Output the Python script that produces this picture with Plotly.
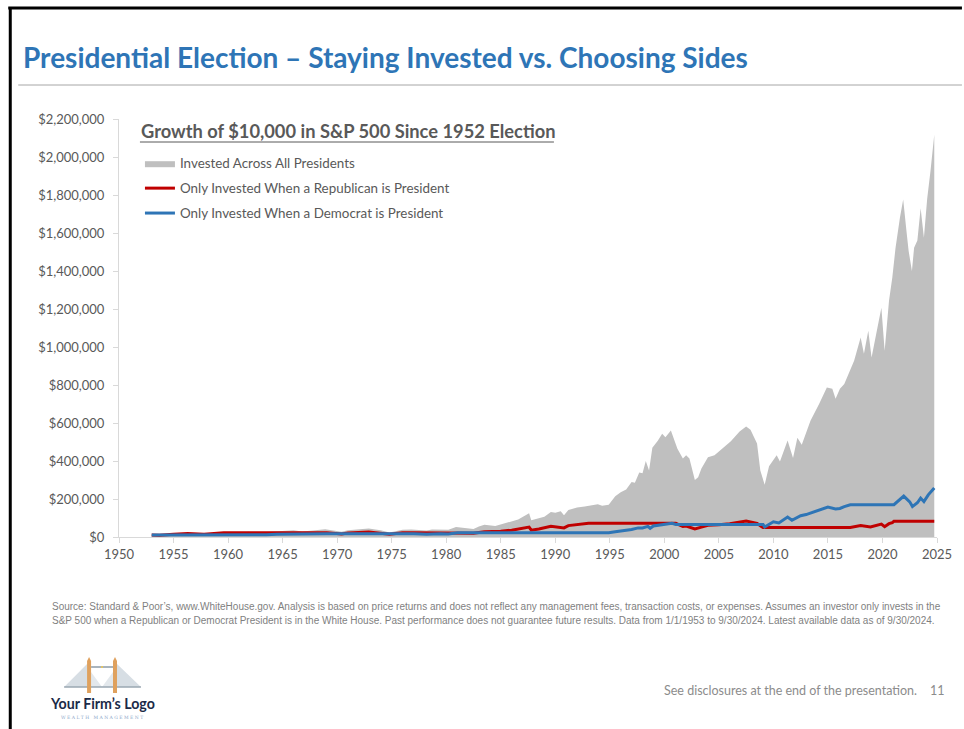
import plotly.graph_objects as go

# ---- data (decimal years, dollar values) ----
all_years = [1953.0, 1953.7, 1954.5, 1955.0, 1955.7, 1956.3, 1957.0, 1957.8, 1958.5, 1959.0,
             1959.6, 1960.3, 1960.8, 1961.5, 1961.9, 1962.5, 1963.0, 1963.9, 1964.9, 1965.5,
             1966.0, 1966.8, 1967.5, 1968.0, 1968.9, 1969.5, 1970.4, 1971.0, 1971.5, 1972.0,
             1972.9, 1973.5, 1974.0, 1974.8, 1975.5, 1976.0, 1976.8, 1977.5, 1978.2, 1978.7,
             1979.5, 1980.2, 1980.9, 1981.5, 1982.5, 1983.0, 1983.5, 1984.5, 1985.0, 1985.5,
             1986.0, 1986.6, 1987.0, 1987.6, 1987.8, 1988.5, 1989.0, 1989.6, 1990.0, 1990.5,
             1990.8, 1991.2, 1992.0, 1992.7, 1993.3, 1993.9, 1994.3, 1994.9, 1995.5, 1996.0,
             1996.5, 1997.0, 1997.3, 1997.7, 1998.0, 1998.3, 1998.6, 1998.9, 1999.4, 1999.8,
             2000.1, 2000.6, 2001.2, 2001.7, 2002.0, 2002.3, 2002.8, 2003.1, 2003.4, 2004.0,
             2004.6, 2005.2, 2006.1, 2006.9, 2007.5, 2007.9, 2008.5, 2008.8, 2009.2, 2009.6,
             2010.3, 2010.6, 2011.3, 2011.8, 2012.2, 2012.6, 2013.4, 2014.2, 2014.9, 2015.4,
             2015.7, 2016.1, 2016.5, 2017.4, 2018.0, 2018.3, 2018.7, 2019.0, 2019.5, 2019.9,
             2020.2, 2020.6, 2020.9, 2021.2, 2021.6, 2021.9, 2022.2, 2022.4, 2022.7, 2022.9,
             2023.2, 2023.5, 2023.8, 2024.1, 2024.4, 2024.75]
all_values = [10000, 9300, 12500, 14000, 17500, 18500, 17500, 15000, 17500, 21000,
              22500, 21000, 20500, 24500, 27000, 20500, 25000, 28000, 32000, 32500,
              35000, 29000, 34500, 36000, 41000, 35000, 27000, 35000, 38000, 40000,
              45000, 40000, 36000, 24000, 34000, 38000, 40000, 37000, 34000, 40000,
              40000, 38000, 53000, 49000, 42000, 55000, 64000, 58000, 66000, 72000,
              84000, 92000, 105000, 125000, 88000, 100000, 106000, 132000, 128000, 136000,
              114000, 142000, 155000, 160000, 165000, 172000, 165000, 170000, 215000, 236000,
              250000, 290000, 285000, 340000, 335000, 400000, 350000, 470000, 507000, 543000,
              525000, 560000, 465000, 413000, 430000, 413000, 300000, 315000, 360000, 420000,
              430000, 460000, 504000, 555000, 581000, 565000, 492000, 350000, 275000, 373000,
              430000, 398000, 508000, 416000, 523000, 486000, 612000, 701000, 787000, 780000,
              728000, 780000, 805000, 928000, 1050000, 964000, 1085000, 945000, 1102000, 1207000,
              980000, 1243000, 1365000, 1522000, 1680000, 1776000, 1610000, 1505000, 1400000, 1522000,
              1560000, 1730000, 1575000, 1780000, 1925000, 2117000]

rep_years = [1953.0, 1953.7, 1955.0, 1956.3, 1957.8, 1958.5, 1959.6, 1960.5, 1961.05, 1969.05,
             1970.4, 1971.0, 1972.0, 1972.9, 1974.8, 1975.5, 1976.0, 1977.05, 1981.05, 1982.5,
             1983.5, 1985.0, 1986.0, 1987.6, 1987.8, 1988.5, 1989.6, 1990.8, 1991.2, 1992.0,
             1993.05, 2001.05, 2001.7, 2002.0, 2002.8, 2003.4, 2004.0, 2005.0, 2006.0, 2007.5,
             2008.5, 2008.9, 2009.05, 2017.05, 2017.5, 2018.0, 2018.9, 2019.5, 2019.9, 2020.2,
             2020.6, 2020.9, 2021.05, 2024.75]
rep_values = [10000, 9500, 14000, 18000, 15000, 17500, 23000, 22000, 23000, 23000,
              16000, 21000, 23000, 26000, 14000, 20000, 22000, 23000, 23000, 20000,
              28000, 30000, 36000, 52000, 36000, 42000, 56000, 48000, 60000, 66000,
              72000, 72000, 55000, 58000, 43000, 52000, 62000, 64000, 70000, 84000,
              72000, 55000, 50000, 50000, 55000, 60000, 53000, 62000, 68000, 54000,
              70000, 76000, 83000, 83000]

dem_years = [1953.0, 1961.05, 1961.9, 1962.5, 1963.5, 1964.5, 1966.0, 1966.8, 1968.0, 1969.05,
             1977.05, 1978.2, 1979.5, 1980.2, 1981.05, 1993.05, 1994.0, 1994.9, 1995.5, 1996.0,
             1996.5, 1997.0, 1997.6, 1998.0, 1998.5, 1998.7, 1999.0, 1999.5, 2000.0, 2000.7,
             2001.05, 2009.05, 2009.2, 2009.5, 2010.0, 2010.5, 2011.3, 2011.7, 2012.5, 2013.0,
             2014.0, 2015.0, 2015.7, 2016.1, 2016.5, 2017.05, 2021.05, 2021.5, 2021.95, 2022.5,
             2022.75, 2023.2, 2023.5, 2023.8, 2024.2, 2024.75]
dem_values = [10000, 10000, 12000, 9500, 12000, 14000, 16000, 13500, 16000, 17000,
              17000, 14500, 17000, 16000, 22000, 22000, 23000, 22500, 28000, 32000,
              35000, 40000, 48000, 48000, 56000, 46000, 58000, 63000, 67000, 72000,
              66000, 66000, 53000, 62000, 80000, 74000, 105000, 88000, 112000, 118000,
              140000, 158000, 148000, 150000, 160000, 170000, 170000, 195000, 215000, 185000,
              160000, 180000, 205000, 186000, 222000, 258000]

series_names = ["Invested Across All Presidents",
                "Only Invested When a Republican is President",
                "Only Invested When a Democrat is President"]

x_ticks = list(range(1950, 2030, 5))

# ---- page geometry (pixels) ----
W, H = 964, 729
L, T, PW, PH = 119, 119, 820, 418


def px(x):
    return (x - L) / PW


def py(y):
    return (T + PH - y) / PH


GRAY = "#BFBFBF"
RED = "#C00000"
BLUE = "#2E75B6"
TXT = "#595959"
FONT = "Lato, 'Open Sans', sans-serif"

fig = go.Figure()
fig.add_trace(go.Scatter(x=all_years, y=all_values, name=series_names[0], mode="lines",
                         fill="tozeroy", fillcolor=GRAY, line=dict(color=GRAY, width=0),
                         legendgroup="a", hoverinfo="skip"))
fig.add_trace(go.Scatter(x=rep_years, y=rep_values, name=series_names[1], mode="lines",
                         line=dict(color=RED, width=3), legendgroup="r"))
fig.add_trace(go.Scatter(x=dem_years, y=dem_values, name=series_names[2], mode="lines",
                         line=dict(color=BLUE, width=3), legendgroup="d"))

shapes = []
# page frame
shapes.append(dict(type="line", xref="paper", yref="paper", x0=px(8), x1=px(964), y0=py(8), y1=py(8),
                   line=dict(color="black", width=3)))
shapes.append(dict(type="line", xref="paper", yref="paper", x0=px(10), x1=px(10), y0=py(7), y1=py(729),
                   line=dict(color="black", width=3)))
# rule under the heading
shapes.append(dict(type="line", xref="paper", yref="paper", x0=px(18), x1=px(964), y0=py(85), y1=py(85),
                   line=dict(color="#A6A6A6", width=1)))
# underline of the chart title
shapes.append(dict(type="line", xref="paper", yref="paper", x0=px(140), x1=px(555), y0=py(142), y1=py(142),
                   line=dict(color=TXT, width=1)))


def path(points):
    s = "M " + " L ".join(f"{px(a):.5f},{py(b):.5f}" for a, b in points) + " Z"
    return s


# bridge logo: cable fans, deck, towers, top walkway
shapes.append(dict(type="path", xref="paper", yref="paper", path=path([(88, 663), (64, 687), (88, 687)]),
                   fillcolor="#D7DEE4", line=dict(width=0)))
shapes.append(dict(type="path", xref="paper", yref="paper", path=path([(116, 663), (141, 687), (116, 687)]),
                   fillcolor="#D7DEE4", line=dict(width=0)))
shapes.append(dict(type="path", xref="paper", yref="paper", path=path([(91, 672), (102, 687), (91, 687)]),
                   fillcolor="#E3E8EC", line=dict(width=0)))
shapes.append(dict(type="path", xref="paper", yref="paper", path=path([(113, 672), (102, 687), (113, 687)]),
                   fillcolor="#E3E8EC", line=dict(width=0)))
shapes.append(dict(type="line", xref="paper", yref="paper", x0=px(64), x1=px(141), y0=py(687), y1=py(687),
                   line=dict(color="#9AA7B2", width=1.5)))
shapes.append(dict(type="line", xref="paper", yref="paper", x0=px(91), x1=px(113), y0=py(667), y1=py(667),
                   line=dict(color="#A9B4BD", width=2)))
for tx in (87, 113):
    shapes.append(dict(type="rect", xref="paper", yref="paper", x0=px(tx), x1=px(tx + 4),
                       y0=py(693), y1=py(661), fillcolor="#DFA15E", line=dict(width=0)))
    shapes.append(dict(type="path", xref="paper", yref="paper",
                       path=path([(tx, 661), (tx + 2, 657), (tx + 4, 661)]),
                       fillcolor="#DFA15E", line=dict(width=0)))
shapes.append(dict(type="circle", xref="paper", yref="paper", x0=px(101), x1=px(103), y0=py(668), y1=py(666),
                   fillcolor="#F2C94C", line=dict(width=0)))

annotations = []
annotations.append(dict(text="<b>Presidential Election – Staying Invested vs. Choosing Sides</b>",
                        x=px(21), y=py(57), xref="paper", yref="paper", xanchor="left", yanchor="middle",
                        showarrow=False, font=dict(family=FONT, size=28, color="#2E75B6")))
annotations.append(dict(text="<b>Growth of $10,000 in S&P 500 Since 1952 Election</b>",
                        x=px(139), y=py(131), xref="paper", yref="paper", xanchor="left", yanchor="middle",
                        showarrow=False, font=dict(family=FONT, size=18.3, color=TXT)))
foot1 = ("Source: Standard & Poor’s, www.WhiteHouse.gov. Analysis is based on price returns and does not reflect any "
         "management fees, transaction costs, or expenses. Assumes an investor only invests in the")
foot2 = ("S&P 500 when a Republican or Democrat President is in the White House. Past performance does not guarantee "
         "future results. Data from 1/1/1953 to 9/30/2024. Latest available data as of 9/30/2024.")
FOOT_FONT = "'Liberation Sans Narrow', 'Arial Narrow', 'Liberation Sans', sans-serif"
for txt, yy in ((foot1, 606), (foot2, 620)):
    annotations.append(dict(text=txt, x=px(50), y=py(yy), xref="paper", yref="paper", xanchor="left",
                            yanchor="middle", showarrow=False,
                            font=dict(family=FOOT_FONT, size=10, color="#7F7F7F")))
annotations.append(dict(text="See disclosures at the end of the presentation.", x=px(663), y=py(690),
                        xref="paper", yref="paper", xanchor="left", yanchor="middle", showarrow=False,
                        font=dict(family=FONT, size=12.5, color="#8C8C8C")))
annotations.append(dict(text="11", x=px(949), y=py(690), xref="paper", yref="paper", xanchor="right",
                        yanchor="middle", showarrow=False, font=dict(family=FONT, size=12.5, color="#8C8C8C")))
annotations.append(dict(text="<b>Your Firm’s Logo</b>", x=px(102), y=py(703), xref="paper", yref="paper",
                        xanchor="center", yanchor="middle", showarrow=False,
                        font=dict(family=FONT, size=14.2, color="#1B2A47")))
annotations.append(dict(text="W E A L T H   M A N A G E M E N T", x=px(102), y=py(717), xref="paper",
                        yref="paper", xanchor="center", yanchor="middle", showarrow=False,
                        font=dict(family="'DejaVu Serif', serif", size=4.5, color="#8AA5C8")))

fig.update_layout(
    width=W, height=H,
    margin=dict(l=L, r=W - L - PW, t=T, b=H - T - PH, pad=0),
    paper_bgcolor="white", plot_bgcolor="white",
    font=dict(family=FONT, size=13, color=TXT),
    showlegend=True,
    legend=dict(x=px(140), y=py(148), xanchor="left", yanchor="top", bgcolor="rgba(0,0,0,0)",
                font=dict(family=FONT, size=13.4, color=TXT), itemwidth=30, tracegroupgap=4.5,
                traceorder="grouped"),
    shapes=shapes,
    annotations=annotations,
    hovermode=False,
)
fig.update_xaxes(range=[1950, 2025], tickmode="array", tickvals=x_ticks, ticktext=[str(v) for v in x_ticks],
                 showgrid=False, zeroline=False, showline=True, linecolor="#D9D9D9", linewidth=1,
                 ticks="outside", ticklen=5, tickcolor="#D9D9D9", tickfont=dict(size=13, color=TXT))
fig.update_yaxes(range=[0, 2200000], dtick=200000, tick0=0, tickprefix="$", tickformat=",.0f",
                 showgrid=False, zeroline=False, showline=True, linecolor="#D9D9D9", linewidth=1,
                 ticks="outside", ticklen=5, tickcolor="#D9D9D9", tickfont=dict(size=13, color=TXT),
                 ticklabelstandoff=6)

fig.write_html("out.html")
